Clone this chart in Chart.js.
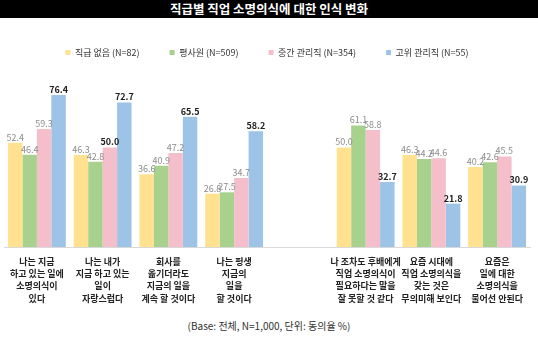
<!DOCTYPE html>
<html>
<head>
<meta charset="utf-8">
<script src="https://cdn.jsdelivr.net/npm/chart.js@4"></script>
<style>
  body { margin: 0; background: #fff; font-family: "Noto Sans CJK KR", sans-serif; }
  #wrap { position: relative; width: 538px; height: 337px; overflow: hidden; }
  #title { position: absolute; left: 0; top: 0; width: 538px; height: 18px; background: #000; color: #fff;
    font-size: 12.5px; font-weight: bold; text-align: center; line-height: 18px; }
  #chartBox { position: absolute; left: 0; top: 18px; width: 538px; height: 300px; }
  #note { position: absolute; left: 0; width: 538px; top: 318px; text-align: center; font-size: 10px; color: #333; }
</style>
</head>
<body>
<div id="wrap">
  <div id="title">직급별 직업 소명의식에 대한 인식 변화</div>
  <div id="chartBox"><canvas id="barChart"></canvas></div>
  <div id="note">(Base: 전체, N=1,000, 단위: 동의율 %)</div>
</div>
<script>
// 항목 (빈 칸은 두 그룹 사이 간격)
const categories = [
  ["나는 지금", "하고 있는 일에", "소명의식이", "있다"],
  ["나는 내가", "지금 하고 있는", "일이", "자랑스럽다"],
  ["회사를", "옮기더라도", "지금의 일을", "계속 할 것이다"],
  ["나는 평생", "지금의", "일을", "할 것이다"],
  "",
  ["나 조차도 후배에게", "직업 소명의식이", "필요하다는 말을", "잘 못할 것 같다"],
  ["요즘 시대에", "직업 소명의식을", "갖는 것은", "무의미해 보인다"],
  ["요즘은", "일에 대한", "소명의식을", "물어선 안된다"]
];

const seriesNames = ["직급 없음 (N=82)", "평사원 (N=509)", "중간 관리직 (N=354)", "고위 관리직 (N=55)"];
const noRank = [52.4, 46.3, 36.6, 26.8, null, 50.0, 46.3, 40.2];
const staff = [46.4, 42.8, 40.9, 27.5, null, 61.1, 44.2, 42.6];
const middle = [59.3, 50.0, 47.2, 34.7, null, 58.8, 44.6, 45.5];
const senior = [76.4, 72.7, 65.5, 58.2, null, 32.7, 21.8, 30.9];

const colors = ["#FFE18F", "#A9D18E", "#F4BFCB", "#9DC3E6"];

// 막대 위 값 표시
const valueLabels = {
  id: "valueLabels",
  afterDatasetsDraw(chart) {
    const ctx = chart.ctx;
    ctx.save();
    ctx.textAlign = "center";
    ctx.textBaseline = "bottom";
    chart.data.datasets.forEach((ds, i) => {
      const meta = chart.getDatasetMeta(i);
      meta.data.forEach((bar, j) => {
        const v = ds.data[j];
        if (v == null) return;
        const strong = i === 3 || (i === 2 && j === 1);
        ctx.font = (strong ? "bold " : "") + "9px 'Noto Sans CJK KR'";
        ctx.fillStyle = strong ? "#222" : "#8c8c8c";
        ctx.fillText(v.toFixed(1), bar.x, bar.y - 1);
      });
    });
    ctx.restore();
  }
};

const data = {
  labels: categories,
  datasets: [noRank, staff, middle, senior].map((d, i) => ({
    label: seriesNames[i],
    data: d,
    backgroundColor: colors[i]
  }))
};

const config = {
  type: "bar",
  data: data,
  plugins: [valueLabels],
  options: {
    responsive: true,
    maintainAspectRatio: false,
    animation: false,
    layout: { padding: { top: 0, left: 4, right: 8, bottom: 0 } },
    datasets: { bar: { categoryPercentage: 0.88, barPercentage: 1 } },
    scales: {
      x: {
        afterFit(scale) { scale.height = 71; },
        grid: { display: false, drawTicks: false },
        border: { color: "#d9d9d9" },
        ticks: {
          padding: 8,
          autoSkip: false,
          maxRotation: 0,
          color: "#222",
          font: { family: "Noto Sans CJK KR", size: 9, weight: "bold", lineHeight: 1.37 }
        }
      },
      y: { display: false, min: 0, max: 90.5 }
    },
    plugins: {
      tooltip: { enabled: false },
      legend: {
        position: "top",
        labels: {
          boxWidth: 5,
          boxHeight: 5,
          padding: 30,
          color: "#333",
          font: { family: "Noto Sans CJK KR", size: 9 }
        }
      }
    }
  }
};

const ctx = document.getElementById("barChart");
new Chart(ctx, config);
</script>
</body>
</html>
